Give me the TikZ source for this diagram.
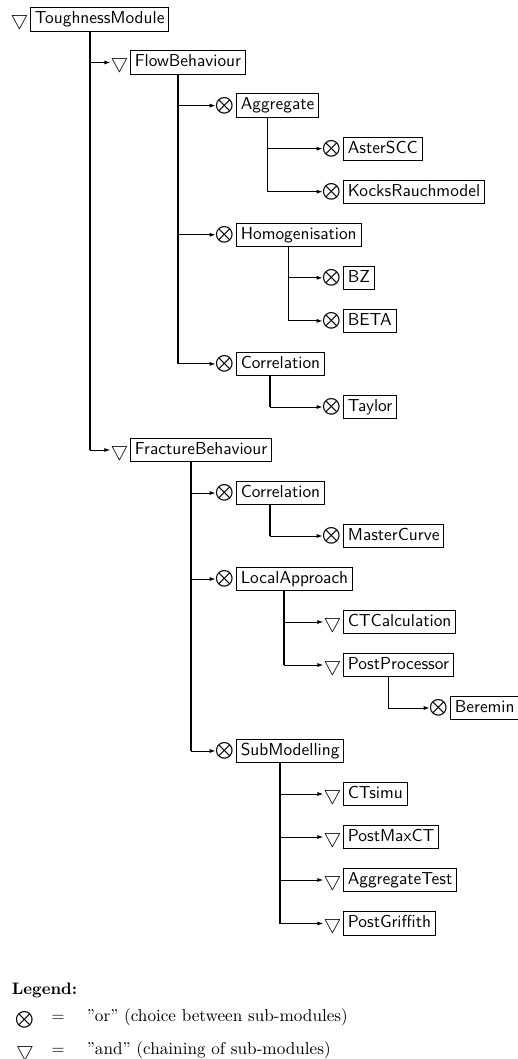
\documentclass[tikz,border=0pt]{standalone}
\usepackage{amsmath,amssymb}
\usetikzlibrary{arrows.meta}
\usetikzlibrary{positioning,calc}

\begin{document}
\begin{tikzpicture}[x=0.6pt, y=-0.6pt,
  mod/.style={draw, rectangle, anchor=west, font=\fontsize{10.4}{12}\sffamily, line width=0.6pt,
    inner xsep=2.6pt, inner ysep=2.4pt, text height=7.2pt, text depth=2pt},
  andsym/.style={inner sep=0pt, font=\large, left=0.8pt of #1, yshift=-0.8pt},
  orsym/.style={inner sep=0pt, left=0.8pt of #1},
  trunk/.style={line width=0.9pt},
  arr/.style={-{Latex[length=3.5pt,width=2.4pt]}, line width=0.5pt}
]
\useasboundingbox (0,0) rectangle (518,1059);

% Modules: box + symbol to its left
\node[mod] (tm) at (30,19.5) {ToughnessModule};
\node[andsym=tm] (tm-s) {$\bigtriangledown$};
\node[mod] (fb) at (130,62.5) {FlowBehaviour};
\node[andsym=fb] (fb-s) {$\bigtriangledown$};
\node[mod] (agg) at (236,105.6) {Aggregate};
\node[orsym=agg] (agg-s) {$\bigotimes$};
\node[mod] (aster) at (343,148.7) {AsterSCC};
\node[orsym=aster] (aster-s) {$\bigotimes$};
\node[mod] (kocks) at (343,191.7) {KocksRauchmodel};
\node[orsym=kocks] (kocks-s) {$\bigotimes$};
\node[mod] (hom) at (236,234.8) {Homogenisation};
\node[orsym=hom] (hom-s) {$\bigotimes$};
\node[mod] (bz) at (343,277.8) {BZ};
\node[orsym=bz] (bz-s) {$\bigotimes$};
\node[mod] (beta) at (343,320.9) {BETA};
\node[orsym=beta] (beta-s) {$\bigotimes$};
\node[mod] (corr) at (236,363.9) {Correlation};
\node[orsym=corr] (corr-s) {$\bigotimes$};
\node[mod] (tay) at (343,407) {Taylor};
\node[orsym=tay] (tay-s) {$\bigotimes$};
\node[mod] (fr) at (130,450) {FractureBehaviour};
\node[andsym=fr] (fr-s) {$\bigtriangledown$};
\node[mod] (corr2) at (236,493) {Correlation};
\node[orsym=corr2] (corr2-s) {$\bigotimes$};
\node[mod] (mc) at (343,536) {MasterCurve};
\node[orsym=mc] (mc-s) {$\bigotimes$};
\node[mod] (la) at (236,579) {LocalApproach};
\node[orsym=la] (la-s) {$\bigotimes$};
\node[mod] (ctc) at (343,622) {CTCalculation};
\node[andsym=ctc] (ctc-s) {$\bigtriangledown$};
\node[mod] (pp) at (343,665) {PostProcessor};
\node[andsym=pp] (pp-s) {$\bigtriangledown$};
\node[mod] (ber) at (450,708) {Beremin};
\node[orsym=ber] (ber-s) {$\bigotimes$};
\node[mod] (sub) at (236,751) {SubModelling};
\node[orsym=sub] (sub-s) {$\bigotimes$};
\node[mod] (cts) at (343,794) {CTsimu};
\node[andsym=cts] (cts-s) {$\bigtriangledown$};
\node[mod] (pmx) at (343,837) {PostMaxCT};
\node[andsym=pmx] (pmx-s) {$\bigtriangledown$};
\node[mod] (aggt) at (343,880) {AggregateTest};
\node[andsym=aggt] (aggt-s) {$\bigtriangledown$};
\node[mod] (pg) at (343,923.5) {PostGriffith};
\node[andsym=pg] (pg-s) {$\bigtriangledown$};

% Trunk start points (middle of symbol + box)
\coordinate (tm-b) at ($(tm-s.west |- tm.south)!0.5!(tm.south east)$);
\coordinate (fb-b) at ($(fb-s.west |- fb.south)!0.5!(fb.south east)$);
\coordinate (agg-b) at ($(agg-s.west |- agg.south)!0.5!(agg.south east)$);
\coordinate (hom-b) at ($(hom-s.west |- hom.south)!0.5!(hom.south east)$);
\coordinate (corr-b) at ($(corr-s.west |- corr.south)!0.5!(corr.south east)$);
\coordinate (fr-b) at ($(fr-s.west |- fr.south)!0.5!(fr.south east)$);
\coordinate (corr2-b) at ($(corr2-s.west |- corr2.south)!0.5!(corr2.south east)$);
\coordinate (la-b) at ($(la-s.west |- la.south)!0.5!(la.south east)$);
\coordinate (pp-b) at ($(pp-s.west |- pp.south)!0.5!(pp.south east)$);
\coordinate (sub-b) at ($(sub-s.west |- sub.south)!0.5!(sub.south east)$);

% Vertical trunks
\draw[trunk] (tm-b) -- (tm-b |- fr);
\draw[trunk] (fb-b) -- (fb-b |- corr);
\draw[trunk] (agg-b) -- (agg-b |- kocks);
\draw[trunk] (hom-b) -- (hom-b |- beta);
\draw[trunk] (corr-b) -- (corr-b |- tay);
\draw[trunk] (fr-b) -- (fr-b |- sub);
\draw[trunk] (corr2-b) -- (corr2-b |- mc);
\draw[trunk] (la-b) -- (la-b |- pp);
\draw[trunk] (pp-b) -- (pp-b |- ber);
\draw[trunk] (sub-b) -- (sub-b |- pg);

% Branches
\draw[arr] (tm-b |- fb) -- (fb-s.west |- fb);
\draw[arr] (tm-b |- fr) -- (fr-s.west |- fr);
\draw[arr] (fb-b |- agg) -- (agg-s);
\draw[arr] (fb-b |- hom) -- (hom-s);
\draw[arr] (fb-b |- corr) -- (corr-s);
\draw[arr] (agg-b |- aster) -- (aster-s);
\draw[arr] (agg-b |- kocks) -- (kocks-s);
\draw[arr] (hom-b |- bz) -- (bz-s);
\draw[arr] (hom-b |- beta) -- (beta-s);
\draw[arr] (corr-b |- tay) -- (tay-s);
\draw[arr] (fr-b |- corr2) -- (corr2-s);
\draw[arr] (fr-b |- la) -- (la-s);
\draw[arr] (fr-b |- sub) -- (sub-s);
\draw[arr] (corr2-b |- mc) -- (mc-s);
\draw[arr] (la-b |- ctc) -- (ctc-s.west |- ctc);
\draw[arr] (la-b |- pp) -- (pp-s.west |- pp);
\draw[arr] (pp-b |- ber) -- (ber-s);
\draw[arr] (sub-b |- cts) -- (cts-s.west |- cts);
\draw[arr] (sub-b |- pmx) -- (pmx-s.west |- pmx);
\draw[arr] (sub-b |- aggt) -- (aggt-s.west |- aggt);
\draw[arr] (sub-b |- pg) -- (pg-s.west |- pg);

% Legend
\node[anchor=west] (leg) at (6,990) {\textbf{Legend:}};
\node[inner sep=0pt] (leg-or) at (25,1020) {$\bigotimes$};
\node (leg-or-eq) at (58,1018) {$=$};
\node[anchor=west, font=\fontsize{10.3}{12}\selectfont] (leg-or-t) at (81,1017) {''or'' (choice between sub-modules)};
\node[inner sep=0pt, font=\large] (leg-and) at (25,1051) {$\bigtriangledown$};
\node (leg-and-eq) at (58,1051) {$=$};
\node[anchor=west, font=\fontsize{10.3}{12}\selectfont] (leg-and-t) at (81,1050) {''and'' (chaining of sub-modules)};
\end{tikzpicture}
\end{document}
